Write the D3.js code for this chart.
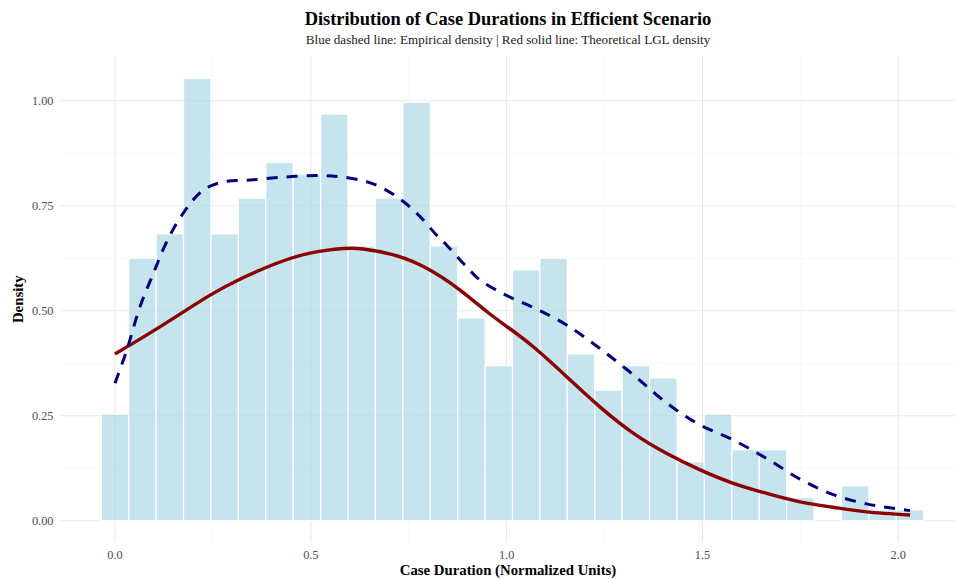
<!DOCTYPE html>
<html>
<head>
<meta charset="utf-8">
<script src="https://cdn.jsdelivr.net/npm/d3@7"></script>
<style>
  html, body { margin: 0; padding: 0; background: #fff; }
  svg { display: block; font-family: "Liberation Serif", "Times New Roman", serif; }
</style>
</head>
<body>
<svg id="chart" width="955" height="579"></svg>
<script>
// ---- Data ----
const binWidth = 0.07;
const binCenters = d3.range(30).map(k => +(k * binWidth).toFixed(2));
const binDensity = [0.254, 0.625, 0.683, 1.053, 0.683, 0.768, 0.853, 0.825, 0.968, 0.654,
                    0.768, 0.996, 0.654, 0.483, 0.369, 0.597, 0.625, 0.397, 0.311, 0.369,
                    0.340, 0.140, 0.254, 0.169, 0.169, 0.055, 0.000, 0.083, 0.0255, 0.0255];

const empX = [0.000, 0.030, 0.064, 0.098, 0.132, 0.174, 0.225, 0.277, 0.345, 0.430, 0.515, 0.575,
              0.643, 0.685, 0.736, 0.779, 0.821, 0.847, 0.889, 0.932, 0.992, 1.043, 1.085, 1.153,
              1.238, 1.324, 1.409, 1.494, 1.579, 1.664, 1.749, 1.834, 1.919, 1.962, 2.030];
const empY = [0.327, 0.406, 0.510, 0.589, 0.664, 0.732, 0.787, 0.807, 0.811, 0.818, 0.822, 0.819,
              0.807, 0.791, 0.760, 0.724, 0.680, 0.656, 0.613, 0.573, 0.540, 0.518, 0.500, 0.466,
              0.410, 0.347, 0.280, 0.228, 0.192, 0.148, 0.099, 0.062, 0.040, 0.033, 0.024];

const theoX = [0.000, 0.072, 0.158, 0.243, 0.328, 0.413, 0.498, 0.583, 0.634, 0.711, 0.796, 0.881,
               0.949, 1.004, 1.068, 1.153, 1.238, 1.324, 1.409, 1.494, 1.579, 1.664, 1.749, 1.834,
               1.919, 2.030];
const theoY = [0.397, 0.437, 0.487, 0.537, 0.579, 0.613, 0.637, 0.648, 0.647, 0.633, 0.601, 0.549,
               0.498, 0.460, 0.414, 0.343, 0.271, 0.208, 0.160, 0.121, 0.089, 0.065, 0.045, 0.032,
               0.021, 0.0136];

const xTicks = [0.0, 0.5, 1.0, 1.5, 2.0];
const xMinor = [0.25, 0.75, 1.25, 1.75];
const yTicks = [0.00, 0.25, 0.50, 0.75, 1.00];
const yMinor = [0.125, 0.375, 0.625, 0.875];

const titleText = "Distribution of Case Durations in Efficient Scenario";
const subtitleText = "Blue dashed line: Empirical density | Red solid line: Theoretical LGL density";
const xTitle = "Case Duration (Normalized Units)";
const yTitle = "Density";

// ---- Layout ----
const svg = d3.select("#chart");
const panel = { left: 61, right: 955, top: 56, bottom: 542.5 };

const x = d3.scaleLinear().domain([0, 2]).range([115, 898.3]);
const y = d3.scaleLinear().domain([0, 1]).range([520.7, 100.7]);

const g = svg.append("g");

// minor grid
g.selectAll(".xminor").data(xMinor).enter().append("line")
  .attr("x1", d => x(d)).attr("x2", d => x(d))
  .attr("y1", panel.top).attr("y2", panel.bottom)
  .attr("stroke", "#f3f3f3").attr("stroke-width", 0.6);
g.selectAll(".yminor").data(yMinor).enter().append("line")
  .attr("x1", panel.left).attr("x2", panel.right)
  .attr("y1", d => y(d)).attr("y2", d => y(d))
  .attr("stroke", "#f3f3f3").attr("stroke-width", 0.6);
// major grid
g.selectAll(".xmajor").data(xTicks).enter().append("line")
  .attr("x1", d => x(d)).attr("x2", d => x(d))
  .attr("y1", panel.top).attr("y2", panel.bottom)
  .attr("stroke", "#e8e8e8").attr("stroke-width", 1.1);
g.selectAll(".ymajor").data(yTicks).enter().append("line")
  .attr("x1", panel.left).attr("x2", panel.right)
  .attr("y1", d => y(d)).attr("y2", d => y(d))
  .attr("stroke", "#e8e8e8").attr("stroke-width", 1.1);

// bars
const bins = binCenters.map((c, i) => ({ c, v: binDensity[i] }));
g.selectAll(".bar").data(bins.filter(b => b.v > 0)).enter().append("rect")
  .attr("x", d => x(d.c - binWidth / 2))
  .attr("width", d => x(d.c + binWidth / 2) - x(d.c - binWidth / 2))
  .attr("y", d => y(d.v))
  .attr("height", d => y(0) - y(d.v))
  .attr("fill", "#add8e6").attr("fill-opacity", 0.7)
  .attr("stroke", "#ffffff").attr("stroke-width", 1.2);

// lines
const theoLine = d3.line().x(d => x(d[0])).y(d => y(d[1])).curve(d3.curveNatural);
const empLine = d3.line().x(d => x(d[0])).y(d => y(d[1])).curve(d3.curveCatmullRom.alpha(0.5));
g.append("path")
  .datum(theoX.map((v, i) => [v, theoY[i]]))
  .attr("d", theoLine)
  .attr("fill", "none").attr("stroke", "#8b0000").attr("stroke-width", 3.4)
  .attr("stroke-linecap", "butt");
g.append("path")
  .datum(empX.map((v, i) => [v, empY[i]]))
  .attr("d", empLine)
  .attr("fill", "none").attr("stroke", "#000080").attr("stroke-width", 3)
  .attr("stroke-dasharray", "11,9");

// axes labels
g.selectAll(".xlab").data(xTicks).enter().append("text")
  .attr("x", d => x(d)).attr("y", 558.5)
  .attr("text-anchor", "middle")
  .attr("font-size", 12.3).attr("fill", "#4d4d4d")
  .text(d => d3.format(".1f")(d));
g.selectAll(".ylab").data(yTicks).enter().append("text")
  .attr("x", 53.5).attr("y", d => y(d) + 4.3)
  .attr("text-anchor", "end")
  .attr("font-size", 12.3).attr("fill", "#4d4d4d")
  .text(d => d3.format(".2f")(d));

const cx = (panel.left + panel.right) / 2;
svg.append("text").attr("x", cx).attr("y", 24.8)
  .attr("text-anchor", "middle").attr("font-size", 18.4).attr("font-weight", "bold")
  .attr("fill", "#000").text(titleText);
svg.append("text").attr("x", cx).attr("y", 43.5)
  .attr("text-anchor", "middle").attr("font-size", 13.1).attr("fill", "#1a1a1a")
  .text(subtitleText);
svg.append("text").attr("x", cx).attr("y", 574.5)
  .attr("text-anchor", "middle").attr("font-size", 14.8).attr("font-weight", "bold")
  .attr("fill", "#000").text(xTitle);
svg.append("text")
  .attr("transform", `translate(22.5,${(panel.top + panel.bottom) / 2}) rotate(-90)`)
  .attr("text-anchor", "middle").attr("font-size", 14.8).attr("font-weight", "bold")
  .attr("fill", "#000").text(yTitle);
</script>
</body>
</html>
